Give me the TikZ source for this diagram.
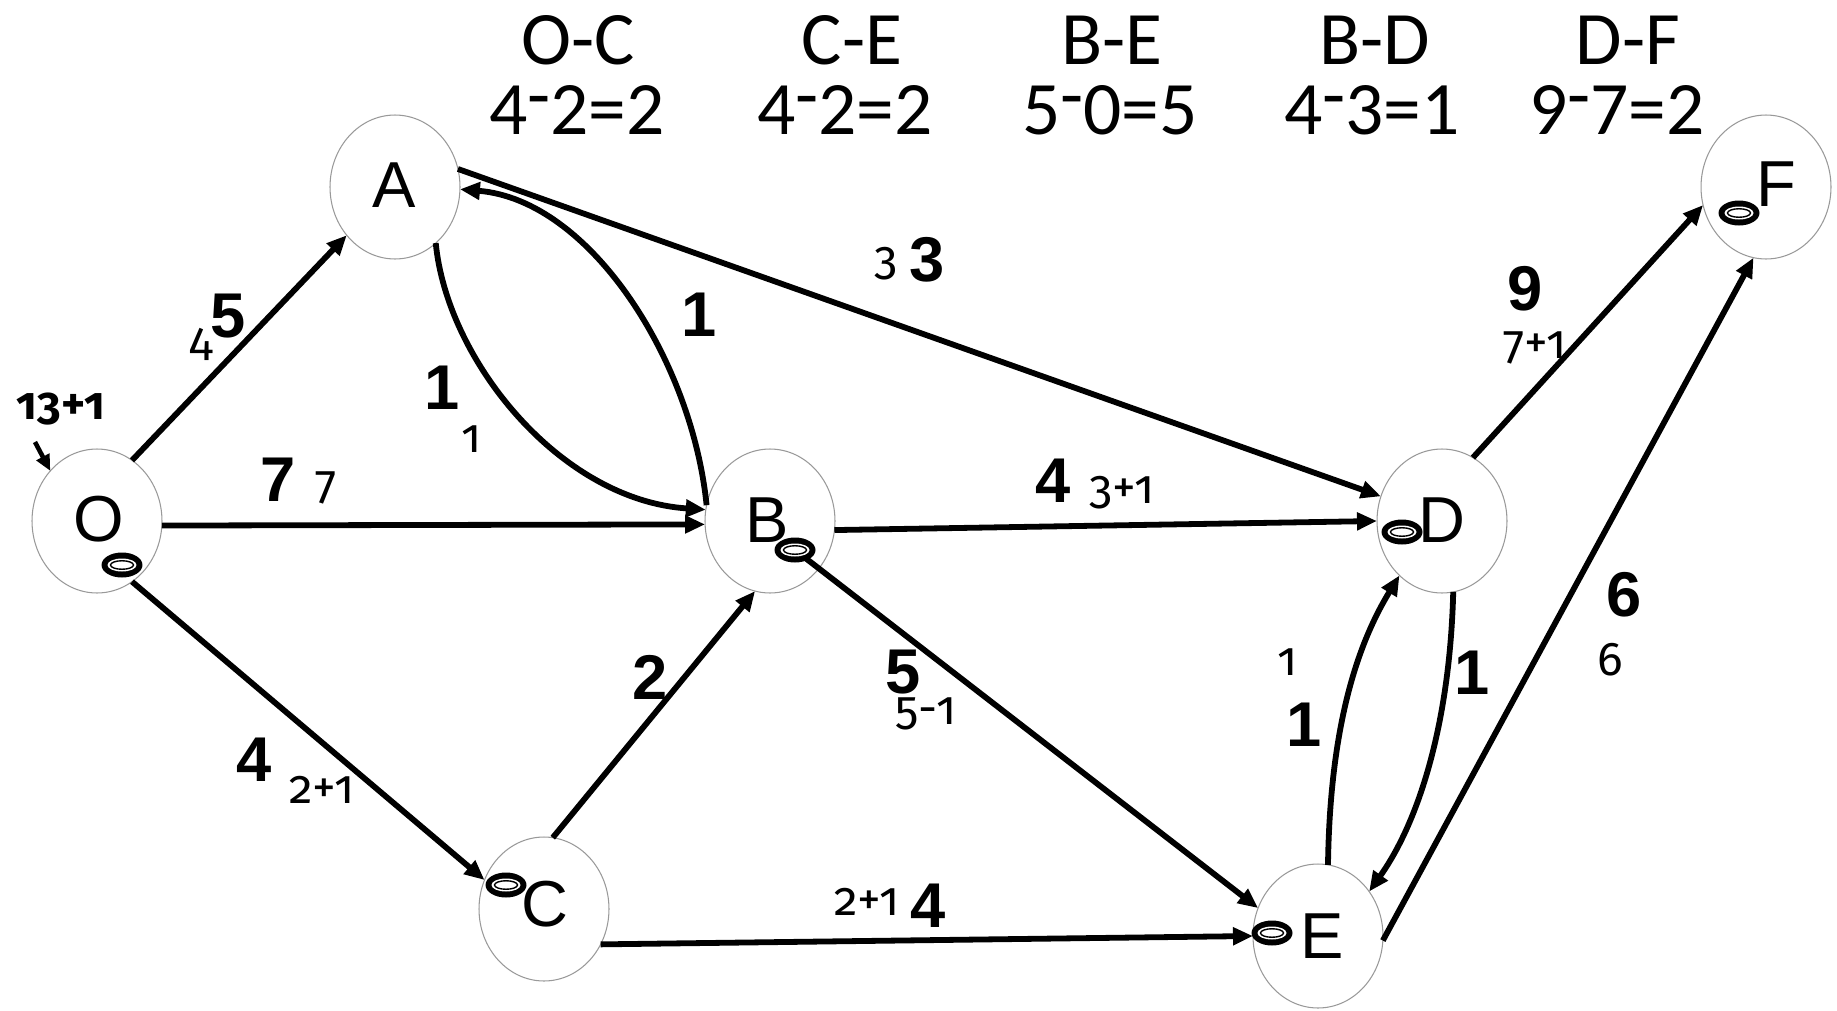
\documentclass[tikz,border=0pt]{standalone}
\usepackage{fontspec}
\setmainfont{Liberation Sans}
\newfontfamily\hdrfont{Carlito}
\newfontfamily\smfont[Numbers=OldStyle]{Fira Sans}
\usetikzlibrary{shapes.geometric,arrows.meta}
\newcommand\rdsh{\raisebox{0.18em}{-}}
\begin{document}
\begin{tikzpicture}[x=0.02cm,y=-0.02cm,
  nd/.style={ellipse,draw=black!40,line width=0.6pt,minimum width=2.6cm,minimum height=2.88cm,inner sep=0pt,outer sep=0pt},
  letter/.style={font=\fontsize{37}{40}\selectfont,inner sep=0pt},
  ed/.style={line width=3.3pt,-{Triangle[length=0.4cm,width=0.34cm]}},
  bl/.style={font=\fontsize{36}{40}\selectfont\bfseries,inner sep=0pt},
  sl/.style={font=\smfont\fontsize{27}{30}\selectfont,inner sep=0pt,anchor=base},
  hd/.style={font=\hdrfont\fontsize{43}{44}\selectfont,inner sep=0pt,anchor=base},
  ]
\useasboundingbox (0,0) rectangle (1837,1011);
% nodes
\node[nd] (O) at (97,521) {};
\node[nd] (A) at (395,187) {};
\node[nd] (B) at (770,521) {};
\node[nd] (C) at (544,909) {};
\node[nd] (D) at (1442,521) {};
\node[nd] (E) at (1318,936) {};
\node[nd] (F) at (1766,187) {};
\node[letter] (lO) at (99,519) {O};
\node[letter] (lA) at (394,185) {A};
\node[letter] (lB) at (767,520) {B};
\node[letter] (lC) at (545,904) {C};
\node[letter] (lD) at (1442,520) {D};
\node[letter] (lE) at (1322,936) {E};
\node[letter] (lF) at (1776,184) {F};
\coordinate (rO) at (122,565);
\coordinate (rB) at (795,550);
\coordinate (rC) at (506,885);
\coordinate (rD) at (1402,532);
\coordinate (rE) at (1272,933);
\coordinate (rF) at (1739,213);
% edges
\draw[ed] (O.60) -- (A.225);
\draw[ed] (O.-4) -- (B.183);
\draw[ed] (O.-60) -- (C.154);
\draw[ed] (A.16) -- (D.158);
\draw[ed] (A.-54) .. controls (447,360) and (560,500) .. (B.170);
\draw[ed] (B.166) .. controls (692,360) and (590,200) .. (A.-2);
\draw[ed] (B.-8) -- (D.180);
\draw[ed] (rB) -- (E.155);
\draw[ed] (C.83) -- (B.258);
\draw[ed] (C.-32) -- (E.180);
\draw[ed] (D.64) -- (F.196);
\draw[ed] (E.-4) -- (F.260);
\draw[ed] (E.82) .. controls (1330,720) and (1360,640) .. (D.232);
\draw[ed] (D.279) .. controls (1450,720) and (1420,820) .. (E.41);
\coordinate (s13) at (35,442);
\draw[line width=2.6pt,-{Triangle[length=0.32cm,width=0.28cm]}] (s13) -- (O.133);
% rings
\foreach \r in {rO,rB,rC,rD,rE,rF}{
  \fill (\r) ellipse [x radius=0.41cm,y radius=0.25cm];
  \fill[white] (\r) ellipse [x radius=0.29cm,y radius=0.13cm];
  \draw[line width=0.8pt,fill=white] (\r) ellipse [x radius=0.23cm,y radius=0.085cm];
}
% bold weights
\node[bl] (w1) at (228,316) {5};
\node[bl] (w2) at (278,480) {7};
\node[bl] (w3) at (254,760) {4};
\node[bl] (w4) at (442,388) {1};
\node[bl] (w5) at (699,315) {1};
\node[bl] (w6) at (927,260) {3};
\node[bl] (w7) at (1053,481) {4};
\node[bl] (w8) at (650,677) {2};
\node[bl] (w9) at (903,672) {5};
\node[bl] (w10) at (928,906) {4};
\node[bl] (w11) at (1304,725) {1};
\node[bl] (w12) at (1472,673) {1};
\node[bl] (w13) at (1624,595) {6};
\node[bl] (w14) at (1525,289) {9};
% small labels
\node[sl] (s1) at (201,355) {4};
\node[sl] (s2) at (326,498) {7};
\node[sl] (s3) at (322,803) {2+1};
\node[sl] (s4) at (472,452) {1};
\node[sl] (s5) at (886,274) {3};
\node[sl] (s6) at (1122,503) {3+1};
\node[sl] (s7) at (926,724) {5-1};
\node[sl] (s8) at (867,915) {2+1};
\node[sl] (s9) at (1288,675) {1};
\node[sl] (s10) at (1610,675) {6};
\node[sl] (s11) at (1535,358) {7+1};
\node[sl,font=\smfont\bfseries\fontsize{26}{28}\selectfont] (t13) at (61,419) {13+1};
% header
\node[hd] (h1) at (578,64) {O-C};
\node[hd] (h1b) at (577,134) {4\rdsh2=2};
\node[hd] (h2) at (852,64) {C-E};
\node[hd] (h2b) at (845,134) {4\rdsh2=2};
\node[hd] (h3) at (1112,64) {B-E};
\node[hd] (h3b) at (1110,134) {5\rdsh0=5};
\node[hd] (h4) at (1375,64) {B-D};
\node[hd] (h4b) at (1372,134) {4\rdsh3=1};
\node[hd] (h5) at (1628,64) {D-F};
\node[hd] (h5b) at (1617,134) {9\rdsh7=2};
\end{tikzpicture}
\end{document}
